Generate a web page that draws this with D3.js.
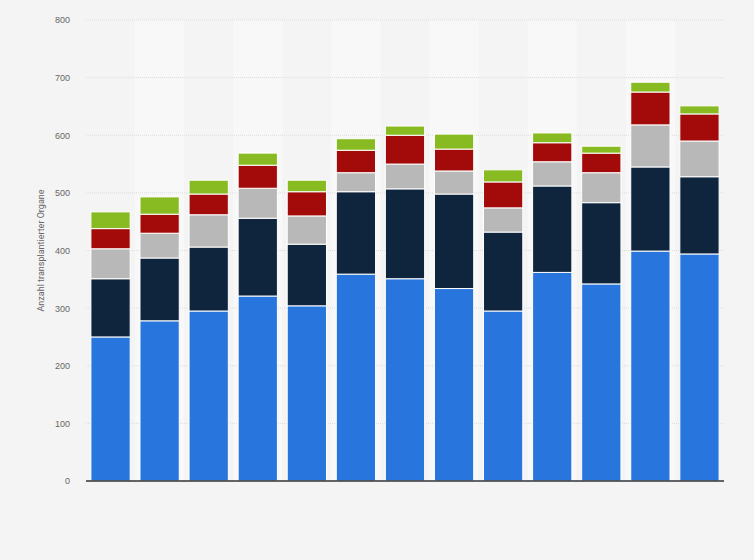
<!DOCTYPE html>
<html><head><meta charset="utf-8">
<script src="https://cdn.jsdelivr.net/npm/d3@7"></script>
<style>body{margin:0;background:#f4f4f4;font-family:Roboto,Arial,sans-serif}</style>
</head><body><div class="canvas"></div>
<script>
const categories = ['1','2','3','4','5','6','7','8','9','10','11','12','13'];
const keys = ['a','b','c','d','e'];
const seriesA = [250, 278, 295, 321, 304, 359, 351, 334, 295, 362, 342, 399, 394];
const seriesB = [101, 109, 111, 135, 107, 143, 156, 164, 137, 150, 141, 146, 134];
const seriesC = [52, 43, 56, 52, 49, 33, 43, 40, 42, 42, 52, 73, 62];
const seriesD = [35, 33, 36, 40, 42, 39, 50, 38, 45, 33, 34, 57, 47];
const seriesE = [29, 30, 24, 21, 20, 20, 16, 26, 21, 17, 12, 17, 14];
const colors = ['#2876dd', '#0f253d', '#b8b8b8', '#a30b0b', '#88bb22'];
const yTicks = [0, 100, 200, 300, 400, 500, 600, 700, 800];

const width = 754, height = 560;
const margin = { top: 20, right: 30, bottom: 79, left: 86 };
const graphWidth = width - margin.left - margin.right;
const graphHeight = height - margin.top - margin.bottom;

const table = categories.map((c, i) => ({
  cat: c, a: seriesA[i], b: seriesB[i], c: seriesC[i], d: seriesD[i], e: seriesE[i]
}));
const stacked = d3.stack().keys(keys)(table);

const svg = d3.select('.canvas').append('svg')
  .attr('width', width).attr('height', height);
const graph = svg.append('g').attr('transform', `translate(${margin.left}, ${margin.top})`);

const x = d3.scaleBand().domain(categories).range([0, graphWidth]).paddingInner(0.2).paddingOuter(0.1);
const y = d3.scaleLinear().domain([0, 800]).range([graphHeight, 0]);

// alternating column stripes
graph.selectAll('rect.stripe').data(categories.filter((d, i) => i % 2 === 1))
  .enter().append('rect')
  .attr('x', d => x(d) - x.step() * x.paddingInner() / 2)
  .attr('width', x.step())
  .attr('y', 0).attr('height', graphHeight)
  .attr('fill', '#f8f8f8');

graph.selectAll('line.grid').data(yTicks.slice(1)).enter().append('line')
  .attr('x1', 0).attr('x2', graphWidth)
  .attr('y1', d => y(d)).attr('y2', d => y(d))
  .attr('stroke', '#dcdcdc').attr('stroke-dasharray', '1,1');

graph.selectAll('g.layer').data(stacked).enter().append('g')
  .attr('fill', (d, i) => colors[i])
  .selectAll('rect').data(d => d).enter().append('rect')
  .attr('x', d => x(d.data.cat))
  .attr('width', x.bandwidth())
  .attr('y', d => y(d[1]))
  .attr('height', d => y(d[0]) - y(d[1]))
  .attr('stroke', '#fff').attr('stroke-width', 1);

const yAxis = d3.axisLeft(y).tickValues(yTicks).tickSize(0).tickPadding(16);
const yAxisGroup = graph.append('g').call(yAxis);
yAxisGroup.select('.domain').remove();
yAxisGroup.selectAll('text').attr('fill', '#666').style('font-size', '9px');

graph.append('line').attr('x1', 0).attr('x2', graphWidth)
  .attr('y1', graphHeight).attr('y2', graphHeight)
  .attr('stroke', '#333').attr('stroke-width', 1.3);

svg.append('text')
  .attr('transform', `translate(44, ${margin.top + graphHeight / 2}) rotate(-90)`)
  .attr('text-anchor', 'middle')
  .attr('fill', '#666').style('font-size', '9px')
  .text('Anzahl transplantierter Organe');
</script></body></html>
